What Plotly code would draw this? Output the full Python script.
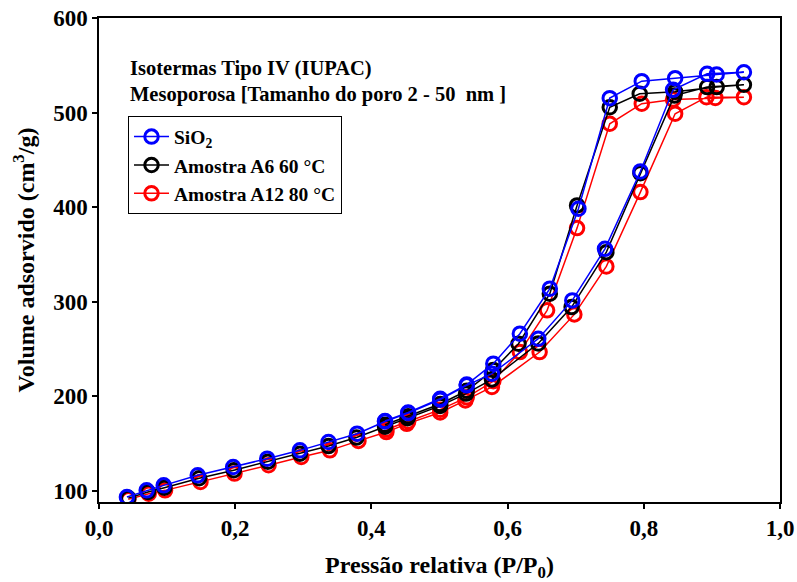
import plotly.graph_objects as go

# Nitrogen physisorption isotherms: adsorption branch then desorption branch
sio2_ads_p = [0.041, 0.070, 0.095, 0.145, 0.197, 0.247, 0.295, 0.337, 0.379, 0.420, 0.454,
              0.501, 0.540, 0.577, 0.645, 0.695, 0.743, 0.795, 0.843, 0.893, 0.947]
sio2_ads_v = [93.7, 100.7, 106.0, 116.6, 125.4, 134.2, 143.0, 151.8, 160.6, 173.5, 182.4,
              196.6, 211.7, 224.0, 261.0, 301.5, 356.0, 437.8, 524.1, 541.0, 542.7]
sio2_des_p = [0.907, 0.846, 0.797, 0.750, 0.704, 0.662, 0.618, 0.579, 0.540, 0.501, 0.454, 0.420]
sio2_des_v = [540.3, 536.4, 533.2, 515.3, 398.4, 313.9, 266.3, 234.6, 212.5, 197.5, 183.0, 174.0]

a6_ads_p = [0.043, 0.072, 0.096, 0.147, 0.198, 0.248, 0.295, 0.337, 0.378, 0.420, 0.453,
            0.501, 0.539, 0.577, 0.645, 0.694, 0.745, 0.795, 0.845, 0.893, 0.947]
a6_ads_v = [92.5, 99.0, 103.5, 113.5, 122.0, 131.0, 139.5, 147.5, 156.5, 168.0, 177.0,
            190.0, 203.0, 218.0, 256.0, 294.4, 352.5, 436.0, 518.0, 527.0, 529.4]
a6_des_p = [0.907, 0.846, 0.794, 0.750, 0.702, 0.662, 0.616, 0.579, 0.540, 0.501, 0.454, 0.420]
a6_des_v = [527.0, 522.0, 519.9, 505.7, 401.9, 308.6, 255.7, 228.0, 206.0, 192.0, 179.0, 170.0]

a12_ads_p = [0.043, 0.073, 0.097, 0.149, 0.199, 0.249, 0.297, 0.339, 0.381, 0.422, 0.452,
             0.501, 0.538, 0.577, 0.647, 0.698, 0.745, 0.795, 0.846, 0.892, 0.947]
a12_ads_v = [91.2, 97.2, 100.7, 109.5, 118.4, 127.2, 136.0, 143.0, 153.0, 162.3, 171.0,
             183.0, 195.8, 210.0, 246.9, 286.7, 337.4, 416.0, 498.8, 516.3, 516.3]
a12_des_p = [0.905, 0.843, 0.797, 0.750, 0.702, 0.658, 0.618, 0.579, 0.540, 0.501, 0.454, 0.422]
a12_des_v = [515.5, 513.9, 509.4, 488.2, 377.9, 291.0, 246.9, 216.0, 199.0, 186.0, 173.5, 165.0]

series_names = ["SiO<sub>2</sub>", "Amostra A6 60 °C", "Amostra A12 80 °C"]
series_colors = ["#0000ff", "#000000", "#ff0000"]
x_ticks = [0.0, 0.2, 0.4, 0.6, 0.8, 1.0]
y_ticks = [100, 200, 300, 400, 500, 600]

FONT = "Liberation Serif, Times New Roman, serif"

fig = go.Figure()
series = [
    (sio2_ads_p + sio2_des_p, sio2_ads_v + sio2_des_v),
    (a6_ads_p + a6_des_p, a6_ads_v + a6_des_v),
    (a12_ads_p + a12_des_p, a12_ads_v + a12_des_v),
]
# draw red first so blue sits on top
for (px, vy), name, color in reversed(list(zip(series, series_names, series_colors))):
    fig.add_trace(go.Scatter(
        x=px, y=vy, name=name, mode="lines+markers",
        line=dict(color=color, width=1.5),
        marker=dict(symbol="circle-open", size=13.5, color=color,
                    line=dict(color=color, width=3)),
    ))

axis_common = dict(
    showline=True, linecolor="black", linewidth=1.5, mirror=True,
    ticks="outside", ticklen=5, tickwidth=1.5, tickcolor="black",
    showgrid=False, zeroline=False, automargin=False,
    tickfont=dict(family=FONT, size=23, color="black", weight="bold"),
)

fig.update_layout(
    width=797, height=582,
    margin=dict(l=99, r=17, t=18, b=80, autoexpand=False),
    paper_bgcolor="white", plot_bgcolor="white",
    separators=",.",
    font=dict(family=FONT, color="black", weight="bold"),
    xaxis=dict(range=[0, 1], tickvals=x_ticks, tickformat=".1f",
               title=dict(text="Pressão relativa (P/P<sub>0</sub>)",
                          font=dict(family=FONT, size=24, weight="bold"), standoff=20),
               **axis_common),
    yaxis=dict(range=[88.4, 600], tickvals=y_ticks,
               title=dict(text="Volume adsorvido (cm<sup>3</sup>/g)",
                          font=dict(family=FONT, size=24, weight="bold"), standoff=12),
               **axis_common),
    legend=dict(x=0.0426, y=0.7966, xanchor="left", yanchor="top",
                bordercolor="black", borderwidth=1, bgcolor="white",
                traceorder="reversed", itemwidth=35,
                font=dict(family=FONT, size=19.5, weight="bold")),
    annotations=[
        dict(x=0.043, y=0.8957, xref="paper", yref="paper", xanchor="left", yanchor="middle",
             text="Isotermas Tipo IV (IUPAC)", showarrow=False,
             font=dict(family=FONT, size=20.5, weight="bold")),
        dict(x=0.043, y=0.842, xref="paper", yref="paper", xanchor="left", yanchor="middle",
             text="Mesoporosa [Tamanho do poro 2 - 50\u00a0 nm ]", showarrow=False,
             font=dict(family=FONT, size=20.5, weight="bold")),
    ],
)

fig.write_html("out.html")
